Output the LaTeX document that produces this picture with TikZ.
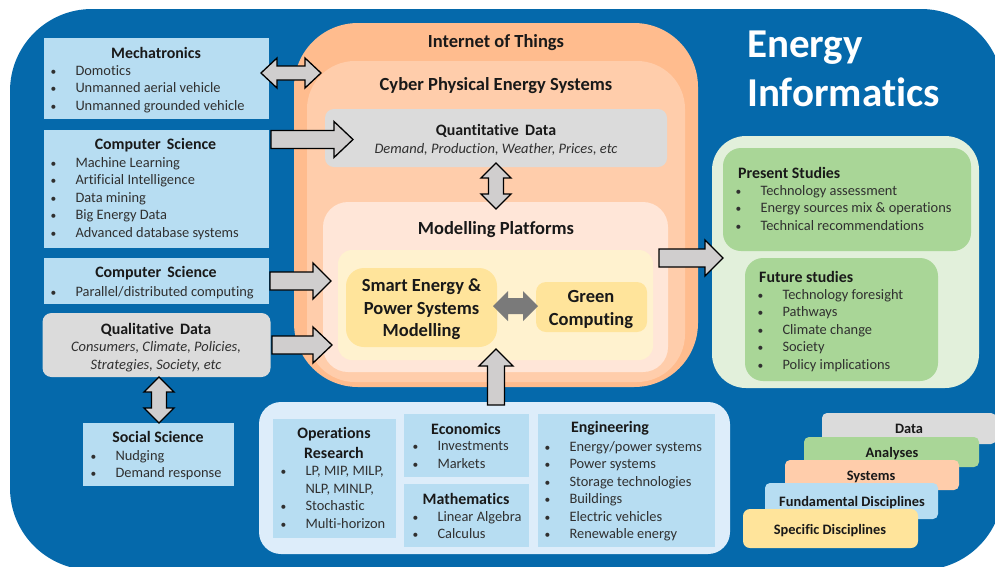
\documentclass[tikz,border=0pt]{standalone}
\usepackage{fontspec}
\setmainfont{Carlito}[Ligatures=NoCommon]
\usetikzlibrary{calc}
\definecolor{bgblue}{HTML}{0569AB}
\definecolor{lblue}{HTML}{B7DDF2}
\definecolor{pblue}{HTML}{DDEDFA}
\definecolor{gbox}{HTML}{DBDBDB}
\definecolor{o1}{HTML}{FFBC8E}
\definecolor{o2}{HTML}{FFCDAB}
\definecolor{o3}{HTML}{FFE6D8}
\definecolor{y1}{HTML}{FFF2CF}
\definecolor{y2}{HTML}{FFE49B}
\definecolor{g1}{HTML}{E2F0DB}
\definecolor{g2}{HTML}{A9D697}
\definecolor{arrgrey}{HTML}{D0CECE}
\definecolor{txt}{HTML}{303030}
\newcommand{\fs}[2]{\fontsize{#1pt}{#2pt}\selectfont}
\tikzset{
  x=1pt,y=-1pt,
  plain/.style={inner sep=0pt,outer sep=0pt,shape=rectangle},
  bluebox/.style={plain,fill=lblue},
  greybox/.style={plain,fill=gbox,rounded corners=9pt},
  head/.style={inner sep=0pt,font=\fs{15.9}{17.5}\bfseries,text=black!90,align=center},
  bighead/.style={inner sep=0pt,font=\fs{18.5}{20}\bfseries,text=black!90,align=center},
  modelhead/.style={inner sep=0pt,font=\fs{18.5}{22.5}\bfseries,text=black!90,align=center},
  blist/.style={inner sep=0pt,anchor=north west,font=\fs{14.4}{17.55},text=txt,align=left},
  itxt/.style={inner sep=0pt,font=\fs{14.5}{17.55}\itshape,text=txt,align=center},
  legend/.style={plain,rounded corners=5pt},
  legtxt/.style={inner sep=0pt,font=\fs{14.4}{16}\bfseries,text=black!90},
  blockarrow/.style={draw=black,line width=1.3pt,fill=arrgrey,line join=miter},
  darkarrow/.style={draw=none,fill=black!52},
}
% box from corners: style, name, x1, y1, x2, y2
\newcommand{\bx}[6]{%
  \pgfmathsetmacro\cxx{(#3+#5)/2}\pgfmathsetmacro\cyy{(#4+#6)/2}%
  \pgfmathsetmacro\www{#5-#3}\pgfmathsetmacro\hhh{#6-#4}%
  \node[#1,minimum width=\www pt,minimum height=\hhh pt] (#2) at (\cxx,\cyy) {};}
% single block arrow: style, from, to, half shaft, half head, head length
\newcommand{\sarrow}[6]{%
  \coordinate (hb) at ($(#3)!#6pt!(#2)$);
  \draw[#1] ($(#2)!#4pt!90:(#3)$) -- ($(hb)!#4pt!-90:(#2)$) -- ($(hb)!#5pt!-90:(#2)$) -- (#3)
    -- ($(hb)!#5pt!90:(#2)$) -- ($(hb)!#4pt!90:(#2)$) -- ($(#2)!#4pt!-90:(#3)$) -- cycle;}
% double block arrow
\newcommand{\darrow}[6]{%
  \coordinate (hb) at ($(#3)!#6pt!(#2)$);
  \coordinate (ha) at ($(#2)!#6pt!(#3)$);
  \draw[#1] (#2) -- ($(ha)!#5pt!90:(#3)$) -- ($(ha)!#4pt!90:(#3)$) -- ($(hb)!#4pt!-90:(#2)$) -- ($(hb)!#5pt!-90:(#2)$) -- (#3)
    -- ($(hb)!#5pt!90:(#2)$) -- ($(hb)!#4pt!90:(#2)$) -- ($(ha)!#4pt!-90:(#3)$) -- ($(ha)!#5pt!-90:(#3)$) -- cycle;}
\newcommand{\bi}{\makebox[22.3pt][l]{\hspace*{-2.5pt}\scalebox{0.8}{\textbullet}}}
\newcommand{\nb}{\hspace*{22.3pt}}
\begin{document}
\begin{tikzpicture}
\path[use as bounding box] (0,0) rectangle (995,566);
\begin{scope}
\clip (0,0) rectangle (995,566);
\fill[white] (0,0) rectangle (995,566);
\bx{plain,fill=bgblue,rounded corners=82pt}{bg}{10}{9}{1003}{570}
\end{scope}

% title
\node[inner sep=0pt,anchor=north west,font=\fs{41}{49.5}\bfseries,text=white,align=left] (title) at (747,30.5) {Energy\\Informatics};

% left boxes
\bx{bluebox}{mech}{44}{38}{269}{119}
\node[head] (mechH) at (156,52.5) {Mechatronics};
\node[blist] (mechL) at (53,65) {\bi Domotics\\\bi Unmanned aerial vehicle\\\bi Unmanned grounded vehicle};

\bx{bluebox}{cs1}{44}{130}{269}{248}
\node[head] (csaH) at (155.5,145) {Computer\, Science};
\node[blist] (csaL) at (53,157) {\bi Machine Learning\\\bi Artificial Intelligence\\\bi Data mining\\\bi Big Energy Data\\\bi Advanced database systems};

\bx{bluebox}{cs2}{44}{258}{269}{304}
\node[head] (csbH) at (156,273) {Computer\, Science};
\node[blist] (csbL) at (53,286.5) {\bi Parallel/distributed computing};

\bx{greybox}{qual}{42.5}{313}{270.5}{377}
\node[head] (qualH) at (156,329.5) {Qualitative\, Data};
\node[itxt] (qualL) at (156,356.5) {Consumers, Climate, Policies,\\Strategies, Society, etc};

\bx{bluebox}{social}{83}{423}{234}{486}
\node[head] (socialH) at (158,436.5) {Social Science};
\node[blist] (socialL) at (93,450) {\bi Nudging\\\bi Demand response};

% centre nest
\bx{plain,fill=o1,rounded corners=64pt}{iot}{294}{23}{698}{387}
\node[bighead] (iotH) at (496,43) {Internet of Things};
\bx{plain,fill=o2,rounded corners=48pt}{cpes}{307}{61}{685}{382}
\node[bighead] (cpesH) at (496,86) {Cyber Physical Energy Systems};
\bx{greybox}{quant}{325}{109}{667}{167}
\node[head] (quantH) at (496,131) {Quantitative\, Data};
\node[itxt] (quantL) at (496,149) {Demand, Production, Weather, Prices, etc};
\bx{plain,fill=o3,rounded corners=25pt}{model}{323}{202}{668}{372}
\node[bighead] (modelH) at (496,229.5) {Modelling Platforms};
\bx{plain,fill=y1,rounded corners=14pt}{yel}{338}{250}{653}{360}
\bx{plain,fill=y2,rounded corners=18pt}{smart}{346}{268}{497}{347}
\node[modelhead] (smartH) at (421.5,309.5) {Smart Energy \&\\Power Systems\\Modelling};
\bx{plain,fill=y2,rounded corners=10pt}{gcomp}{536}{282}{647}{332}
\node[modelhead] (gcompH) at (591,309.5) {Green\\Computing};

% right panel
\bx{plain,fill=g1,rounded corners=34pt}{gbg}{712}{136}{979}{388}
\bx{plain,fill=g2,rounded corners=18pt}{present}{723}{148}{971}{251}
\node[head,anchor=west] (presentH) at (738,172.5) {Present Studies};
\node[blist] (presentL) at (738,185) {\bi Technology assessment\\\bi Energy sources mix \& operations\\\bi Technical recommendations};
\bx{plain,fill=g2,rounded corners=18pt}{future}{745}{258}{938}{381}
\node[head,anchor=west] (futureH) at (759,276.5) {Future studies};
\node[blist] (futureL) at (760,289) {\bi Technology foresight\\\bi Pathways\\\bi Climate change\\\bi Society\\\bi Policy implications};

% bottom panel
\bx{plain,fill=pblue,rounded corners=22pt}{bottom}{259}{402}{730}{554}
\bx{bluebox}{opres}{273}{419}{396}{538}
\node[head,font=\fs{15.9}{20}\bfseries] (opresH) at (334,443) {Operations\\Research};
\node[blist] (opresL) at (283,466) {\bi LP, MIP, MILP,\\\nb NLP, MINLP,\\\bi Stochastic\\\bi Multi-horizon};
\bx{bluebox}{econ}{404}{414}{529}{477}
\node[head] (econH) at (466,428.5) {Economics};
\node[blist] (econL) at (415,441) {\bi Investments\\\bi Markets};
\bx{bluebox}{math}{404}{484}{529}{547}
\node[head] (mathH) at (466,498.5) {Mathematics};
\node[blist] (mathL) at (415,511) {\bi Linear Algebra\\\bi Calculus};
\bx{bluebox}{eng}{538}{414}{715}{547}
\node[head] (engH) at (610,428.5) {Engineering};
\node[blist] (engL) at (547,441) {\bi Energy/power systems\\\bi Power systems\\\bi Storage technologies\\\bi Buildings\\\bi Electric vehicles\\\bi Renewable energy};

% legend
\bx{legend,fill=gbox}{lgData}{822}{413}{996}{444}
\node[legtxt] (lgDataT) at (909,429) {Data};
\bx{legend,fill=g2}{lgAna}{804}{437}{979}{467}
\node[legtxt] (lgAnaT) at (892,453.5) {Analyses};
\bx{legend,fill=o2}{lgSys}{785}{460}{959}{490}
\node[legtxt] (lgSysT) at (871,477) {Systems};
\bx{legend,fill=lblue}{lgFund}{765}{483}{938}{519}
\node[legtxt] (lgFundT) at (852,503) {Fundamental Disciplines};
\bx{legend,fill=y2,rounded corners=7pt}{lgSpec}{743}{509}{918}{548}
\node[legtxt] (lgSpecT) at (830,531) {Specific Disciplines};

% block arrows
\coordinate (a1) at ($(mech.east)+(-8,-5.5)$);
\coordinate (b1) at ($(mech.east -| iot.west)+(27,-5.5)$);
\darrow{blockarrow}{a1}{b1}{7}{15}{16}
\coordinate (a2) at ($(cs1.east)+(2,-49.5)$);
\coordinate (b2) at ($(cs1.east -| quant.west)+(28,-49.5)$);
\sarrow{blockarrow}{a2}{b2}{9}{18}{19}
\coordinate (a3) at ($(cs2.east)+(1,0)$);
\coordinate (b3) at ($(cs2.east -| model.west)+(8,0)$);
\sarrow{blockarrow}{a3}{b3}{9}{18}{18}
\coordinate (a4) at ($(qual.east)+(1.5,0)$);
\coordinate (b4) at ($(qual.east -| model.west)+(9,0)$);
\sarrow{blockarrow}{a4}{b4}{9}{18}{19}
\coordinate (a5) at ($(qual.south)+(2.5,0)$);
\coordinate (b5) at ($(social.north)+(0.5,0)$);
\darrow{blockarrow}{a5}{b5}{7.5}{15}{15}
\coordinate (a6) at ($(quant.south)+(0,-4)$);
\coordinate (b6) at ($(model.north)+(0.5,7)$);
\darrow{blockarrow}{a6}{b6}{7.5}{15}{15}
\coordinate (a7) at ($(smart.east)+(-4,-1.5)$);
\coordinate (b7) at ($(gcomp.west)+(2,-1)$);
\darrow{darkarrow}{a7}{b7}{8}{15}{15}
\coordinate (a8) at ($(bottom.north)+(1.5,3)$);
\coordinate (b8) at ($(bottom.north |- smart.south)+(1.5,2)$);
\sarrow{blockarrow}{a8}{b8}{8.5}{17}{17}
\coordinate (a9) at ($(cpes.east)+(-26,36.5)$);
\coordinate (b9) at ($(a9 -| gbg.west)+(11,0)$);
\sarrow{blockarrow}{a9}{b9}{9}{18}{18}
\end{tikzpicture}
\end{document}
